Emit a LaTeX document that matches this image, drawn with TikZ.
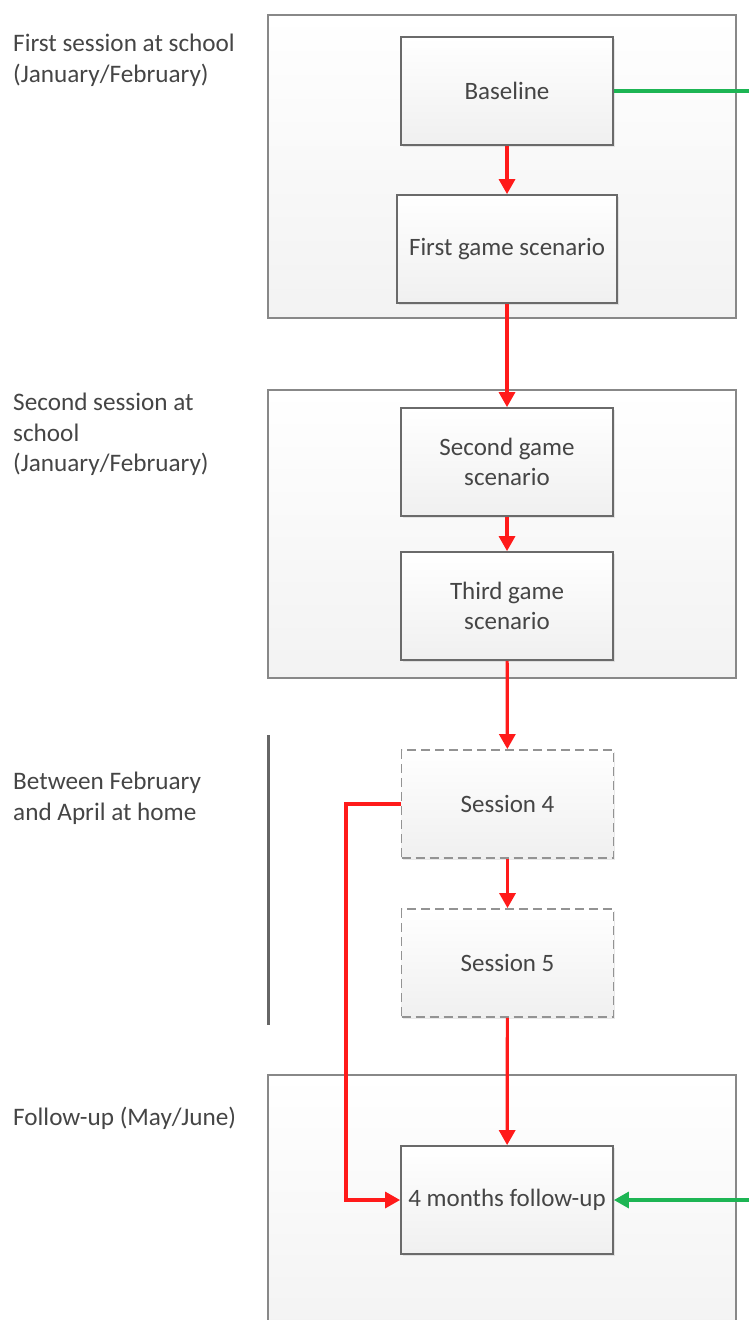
\documentclass[tikz,border=0pt]{standalone}
\usepackage{fontspec}
\setmainfont{Carlito}
\usetikzlibrary{arrows.meta,positioning,shadows}
\definecolor{txt}{HTML}{454545}
\definecolor{boxline}{HTML}{6A6A6A}
\definecolor{outline}{HTML}{888888}
\definecolor{dashline}{HTML}{939393}
\definecolor{redline}{HTML}{FF1A1A}
\definecolor{greenline}{HTML}{1DB554}
\tikzset{
  lbl/.style={anchor=north west, inner sep=0pt, align=left, text=txt, font=\fontsize{25.2}{30.5}\selectfont},
  outerbox/.style={draw=outline, line width=1.6pt, top color=white, bottom color=black!5, inner sep=0pt},
  stepbox/.style={draw=boxline, line width=1.8pt, top color=white, bottom color=black!6, inner sep=0pt, minimum width=212pt, minimum height=108pt, align=center, text=txt, font=\fontsize{25}{30}\selectfont, drop shadow={shadow xshift=1.5pt, shadow yshift=-1.5pt, opacity=0.18}},
  dashbox/.style={stepbox, draw=dashline, dash pattern=on 9pt off 5pt},
  redarrow/.style={draw=redline, line width=3.2pt, -{Triangle[width=16pt,length=15pt]}},
  greenarrow/.style={draw=greenline, line width=3.2pt},
}
\begin{document}
\begin{tikzpicture}[x=1pt,y=-1pt]
\useasboundingbox (0,0) rectangle (749,1320);
\clip (0,0) rectangle (749,1320);
% outer boxes
\node[outerbox, minimum width=468pt, minimum height=303pt] (ob1) at (502,166.5) {};
\node[outerbox, minimum width=468pt, minimum height=288pt] (ob2) at (502,534) {};
\node[outerbox, minimum width=468pt, minimum height=270pt] (ob4) at (502,1210) {};
% bracket line
\coordinate (bt) at (268,735);
\coordinate (bb) at (268,1025);
\draw[line width=3pt, draw=black!60] (bt) -- (bb);
% labels
\node[lbl] (l1) at (13,34) {First session at school\\(January/February)};
\node[lbl] (l2) at (13,393) {Second session at\\school\\(January/February)};
\node[lbl] (l3) at (13,772) {Between February\\and April at home};
\node[lbl] (l4) at (13,1107) {Follow-up (May/June)};
% step boxes
\node[stepbox] (base) at (507,91) {Baseline};
\node[stepbox, minimum width=220pt] (g1) at (507,249) {First game scenario};
\node[stepbox] (g2) at (507,462) {Second game\\scenario};
\node[stepbox] (g3) at (507,606) {Third game\\scenario};
\node[dashbox] (s4) at (507.5,804) {Session 4};
\node[dashbox] (s5) at (507.5,963) {Session 5};
\node[stepbox] (fu) at (507,1200) {4 months follow-up};
% red arrows
\draw[redarrow] (base) -- (g1);
\draw[redarrow] (g1) -- (g2);
\draw[redarrow] (g2) -- (g3);
\draw[redarrow] (g3) -- (s4);
\draw[redarrow] (s4) -- (s5);
\draw[redarrow] (s5) -- (fu);
\coordinate (ra) at (346,804);
\coordinate (rb) at (346,1200);
\draw[redarrow] (s4.west) -- (ra) -- (rb) -- (fu.west);
% green connectors
\coordinate (ga) at (752,91);
\coordinate (gb) at (752,1200);
\draw[greenarrow] (base.east) -- (ga);
\draw[greenarrow, -{Triangle[width=16pt,length=15pt]}] (gb) -- (fu.east);
\end{tikzpicture}
\end{document}
